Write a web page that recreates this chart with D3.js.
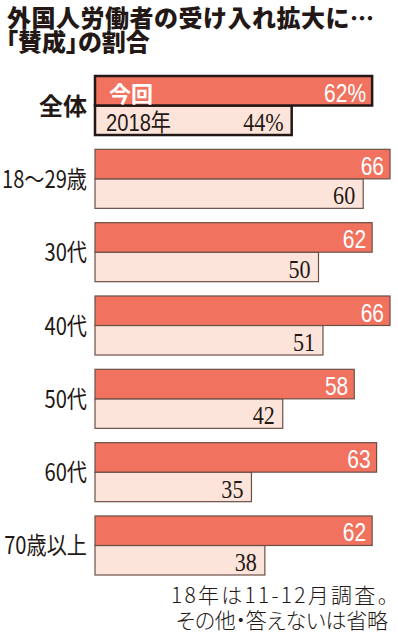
<!DOCTYPE html>
<html lang="ja">
<head>
<meta charset="UTF-8">
<title>外国人労働者の受け入れ拡大に…「賛成」の割合</title>
<style>
  body { margin: 0; background: #fff; }
  svg { display: block; }
  .title { font-family: "Noto Sans CJK JP", sans-serif; font-weight: 900; fill: #231815; }
  .cat { font-family: "Noto Sans CJK JP", sans-serif; fill: #231815; }
  .now-val { font-family: "Liberation Sans", sans-serif; fill: #fff; font-size: 25px; }
  .prev-val { font-family: "Liberation Serif", serif; fill: #231815; font-size: 26px; }
  .note { font-family: "Noto Sans CJK JP", sans-serif; font-weight: 300; fill: #231815; font-size: 21px; }
</style>
</head>
<body>
<div id="chart"></div>
<script src="https://cdn.jsdelivr.net/npm/d3@7/dist/d3.min.js"></script>
<script>
// data
const categories = ["全体", "18〜29歳", "30代", "40代", "50代", "60代", "70歳以上"];
const current = [62, 66, 62, 66, 58, 63, 62];   // 今回
const previous = [44, 60, 50, 51, 42, 35, 38];  // 2018年
const titleLines = ["外国人労働者の受け入れ拡大に…", "「賛成」の割合"];
const noteLines = ["18年は11-12月調査。", "その他・答えないは省略"];

const W = 398, H = 640;
const svg = d3.select("#chart").append("svg")
  .attr("width", W).attr("height", H);

// title: one text block, two lines
const title = svg.append("text").attr("class", "title").attr("font-size", 24);
title.append("tspan")
  .attr("x", 7).attr("y", 27)
  .attr("letter-spacing", 0.5)
  .text(titleLines[0]);
title.append("tspan")
  .attr("x", 6).attr("y", 51)
  .style("font-feature-settings", "'palt'")
  .text(titleLines[1]);

const x = d3.scaleLinear().domain([0, 100]).range([95, 542]);
const y = d3.scaleBand().domain(categories).range([76, 575])
  .paddingInner(0.195).paddingOuter(0);
const sub = d3.scaleBand().domain(["now", "prev"]).range([0, y.bandwidth()]);

const rows = categories.map((c, i) => ({ cat: c, now: current[i], prev: previous[i], total: i === 0 }));

const g = svg.selectAll("g.row").data(rows).enter().append("g")
  .attr("class", "row")
  .attr("transform", d => `translate(0,${y(d.cat)})`);

// previous (2018) bar first, so the current bar's border sits on top
g.append("rect")
  .attr("x", x(0)).attr("y", sub("prev"))
  .attr("width", d => x(d.prev) - x(0)).attr("height", sub.bandwidth())
  .attr("fill", "#fde4da")
  .attr("stroke", d => d.total ? "#231815" : "#6b5048")
  .attr("stroke-width", d => d.total ? 2.5 : 1.2);

g.append("rect")
  .attr("x", x(0)).attr("y", sub("now"))
  .attr("width", d => x(d.now) - x(0)).attr("height", sub.bandwidth())
  .attr("fill", "#f0725f")
  .attr("stroke", d => d.total ? "#231815" : "#6b5048")
  .attr("stroke-width", d => d.total ? 2.5 : 1.2);

// values
g.append("text").attr("class", "now-val")
  .attr("text-anchor", "end")
  .attr("transform", d => `translate(${x(d.now) - 6},${sub("now") + sub.bandwidth() - 4}) scale(0.84,1)`)
  .text(d => d.total ? d.now + "%" : d.now);

g.append("text").attr("class", "prev-val")
  .attr("text-anchor", "end")
  .attr("transform", d => `translate(${x(d.prev) - 8},${sub("prev") + sub.bandwidth() - 4}) scale(0.85,1)`)
  .text(d => d.total ? d.prev + "%" : d.prev);

// series names inside the 全体 bars
const totalRow = g.filter(d => d.total);
totalRow.append("text")
  .attr("x", 109).attr("y", sub("now") + sub.bandwidth() - 4)
  .attr("font-family", "Noto Sans CJK JP").attr("font-weight", 700)
  .attr("font-size", 22).attr("fill", "#fff")
  .text("今回");
totalRow.append("text")
  .attr("transform", `translate(106,${sub("prev") + sub.bandwidth() - 4}) scale(0.84,1)`)
  .attr("font-family", "Liberation Sans, Noto Sans CJK JP").attr("font-size", 24)
  .attr("fill", "#231815")
  .text("2018年");

// category labels
g.append("text").attr("class", "cat")
  .attr("text-anchor", "end")
  .attr("font-size", 24)
  .attr("font-weight", d => d.total ? 700 : 400)
  .attr("transform", d => `translate(87,${y.bandwidth() / 2 + 9}) scale(${d.total ? 1 : 0.84},1)`)
  .text(d => d.cat);

// footnote: one text block, two lines
const note = svg.append("text").attr("class", "note")
  .attr("text-anchor", "end")
  .style("font-feature-settings", "'palt'");
note.selectAll("tspan").data(noteLines).enter().append("tspan")
  .attr("x", 388).attr("y", (d, i) => 603 + i * 25)
  .attr("textLength", (d, i) => i === 0 ? 217 : 212)
  .attr("lengthAdjust", "spacing")
  .text(d => d);
</script>
</body>
</html>
